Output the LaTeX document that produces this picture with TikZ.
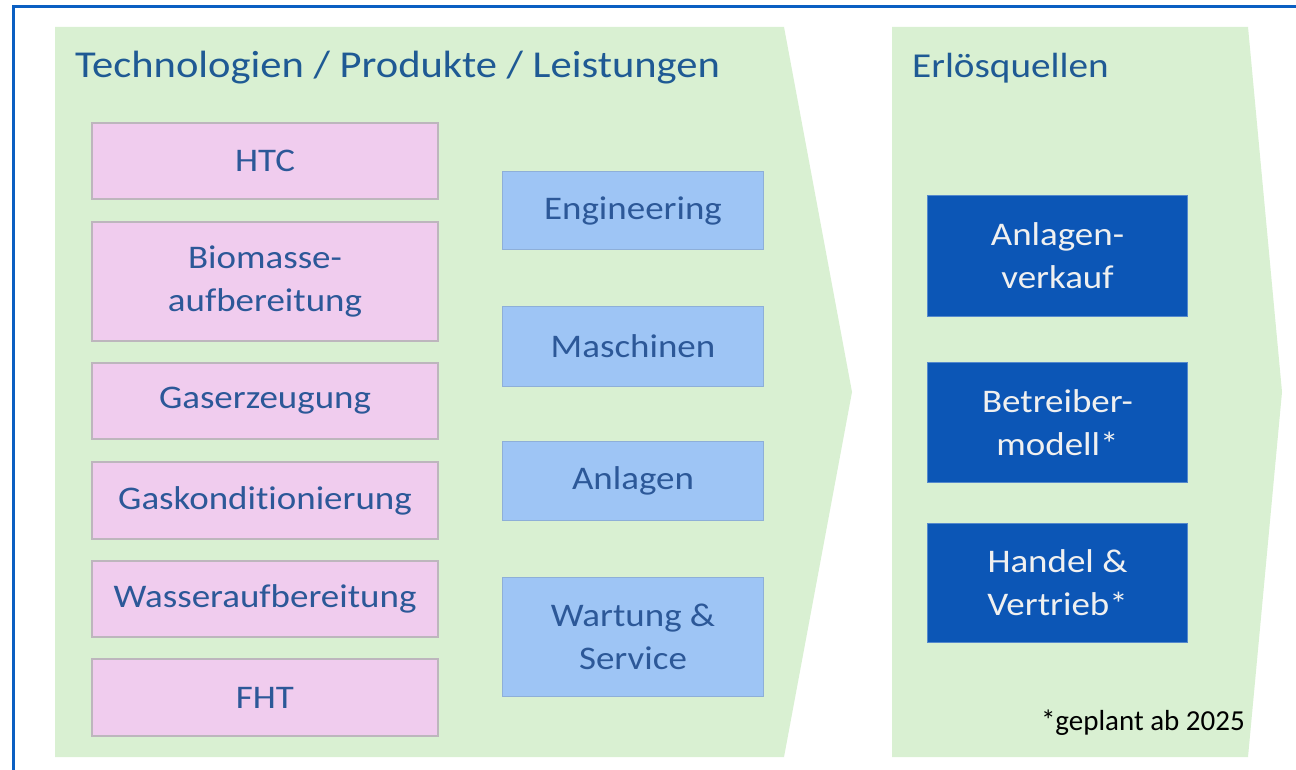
\documentclass[tikz,border=0pt]{standalone}
\usepackage{fontspec}
\setmainfont{Carlito}[Ligatures=NoCommon]
\newfontfamily\widefont{Carlito}[Ligatures=NoCommon,FakeStretch=1.12]

\definecolor{frameBlue}{HTML}{0B5FC2}
\definecolor{panelGreen}{HTML}{D9F0D2}
\definecolor{techPink}{HTML}{F0CCEE}
\definecolor{techEdge}{HTML}{BDB6BD}
\definecolor{serviceBlue}{HTML}{9EC5F5}
\definecolor{serviceEdge}{HTML}{8EAFD8}
\definecolor{revenueBlue}{HTML}{0C56B6}
\definecolor{labelBlue}{HTML}{2C5898}
\definecolor{titleBlue}{HTML}{1F5A94}

\tikzset{
  techbox/.style={draw=techEdge,line width=2.5pt,fill=techPink,text=labelBlue,
    minimum width=346pt,align=center,inner sep=0pt,
    font=\widefont\fontsize{33}{43}\selectfont},
  servicebox/.style={draw=serviceEdge,line width=1.5pt,fill=serviceBlue,text=labelBlue,
    minimum width=261pt,align=center,inner sep=0pt,
    font=\widefont\fontsize{33}{43}\selectfont},
  revenuebox/.style={draw=revenueBlue!70!white,line width=1pt,fill=revenueBlue,text=white!94!black,
    minimum width=260pt,align=center,inner sep=0pt,
    font=\widefont\fontsize{33}{43}\selectfont},
  paneltitle/.style={text=titleBlue,anchor=base west,inner sep=0pt}
}

\begin{document}
\begin{tikzpicture}[x=1pt,y=-1pt]
  \useasboundingbox (0,0) rectangle (1296,770);
  \fill[white] (0,0) rectangle (1296,770);
  % frame
  \draw[frameBlue,line width=3pt] (13,770) -- (13,7) -- (1296,7);
  % green panels
  \fill[panelGreen] (55,27) -- (784,27) -- (852,392) -- (784,757) -- (55,757) -- cycle;
  \fill[panelGreen] (892,27) -- (1248,27) -- (1282,392) -- (1248,757) -- (892,757) -- cycle;

  \node[paneltitle,font=\widefont\fontsize{38}{44}\selectfont] (techtitle) at (75,78) {Technologien / Produkte / Leistungen};
  \node[paneltitle,font=\widefont\fontsize{35}{44}\selectfont] (revtitle) at (912,78) {Erlösquellen};

  % technologies
  \node[techbox,minimum height=76pt] (htc) at (265,161) {HTC};
  \node[techbox,minimum height=119pt] (biomasse) at (265,281.5) {Biomasse-\\aufbereitung};
  \node[techbox,minimum height=76pt] (gaserz) at (265,401) {Gaserzeugung};
  \node[techbox,minimum height=77pt] (gaskond) at (265,500.5) {Gaskonditionierung};
  \node[techbox,minimum height=76pt] (wasser) at (265,599) {Wasseraufbereitung};
  \node[techbox,minimum height=77pt] (fht) at (265,697.5) {FHT};

  % services
  \node[servicebox,minimum height=78pt] (engineering) at (633,210.5) {Engineering};
  \node[servicebox,minimum height=80pt] (maschinen) at (633,346.5) {Maschinen};
  \node[servicebox,minimum height=79pt] (anlagen) at (633,481) {Anlagen};
  \node[servicebox,minimum height=119pt] (wartung) at (633,637) {Wartung \&\\Service};

  % revenue
  \node[revenuebox,minimum height=121pt] (verkauf) at (1057.5,256) {Anlagen-\\verkauf};
  \node[revenuebox,minimum height=120pt] (betreiber) at (1057.5,422.5) {Betreiber-\\modell*};
  \node[revenuebox,minimum height=119pt] (handel) at (1057.5,583) {Handel \&\\Vertrieb*};

  \node[anchor=base east,inner sep=0pt,font=\fontsize{29}{34}\selectfont] (note) at (1245,730) {*geplant ab 2025};
\end{tikzpicture}
\end{document}
